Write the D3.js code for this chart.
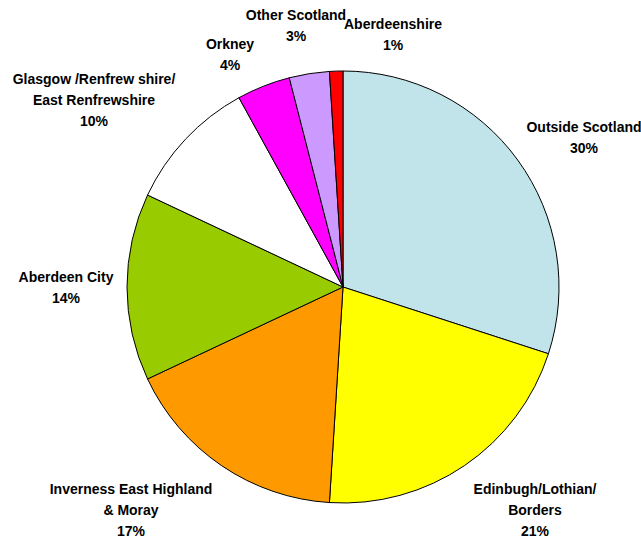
<!DOCTYPE html>
<html>
<head>
<meta charset="utf-8">
<script src="https://cdn.jsdelivr.net/npm/d3@7"></script>
<style>
  html, body { margin: 0; padding: 0; background: #fff; }
  svg text { font-family: "Liberation Sans", Arial, sans-serif; font-weight: bold; font-size: 14px; fill: #000; }
</style>
</head>
<body>
<svg id="chart" width="641" height="542"></svg>
<script>
// Share of respondents by home area (percent)
const categories = [
  "Outside Scotland",
  "Edinbugh/Lothian/\nBorders",
  "Inverness East Highland\n& Moray",
  "Aberdeen City",
  "Glasgow /Renfrew shire/\nEast Renfrewshire",
  "Orkney",
  "Other Scotland",
  "Aberdeenshire"
];
const values = [30, 21, 17, 14, 10, 4, 3, 1];
const colors = ["#C0E4EA", "#FFFF00", "#FF9900", "#99CC00", "#FFFFFF", "#FF00FF", "#CC99FF", "#FF0000"];

// Label block centres (x, y) around the pie
const labelCenters = [
  [584, 137], [535, 510], [131, 510], [66, 287],
  [94, 100], [230, 54], [296, 25], [393, 34]
];

const svg = d3.select("#chart");
const cx = 343, cy = 287, R = 216;

const pie = d3.pie().sort(null).value(d => d.value);
const arc = d3.arc().innerRadius(0).outerRadius(R);

const data = categories.map((c, i) => ({ name: c, value: values[i], color: colors[i] }));

const g = svg.append("g").attr("transform", `translate(${cx},${cy})`);
g.selectAll("path")
  .data(pie(data))
  .join("path")
  .attr("d", arc)
  .attr("fill", d => d.data.color)
  .attr("stroke", "#000")
  .attr("stroke-width", 1)
  .attr("stroke-linejoin", "round");

const lineH = 21;
const labels = svg.append("g");
data.forEach((d, i) => {
  const lines = d.name.split("\n").concat([d.value + "%"]);
  const [lx, ly] = labelCenters[i];
  const top = ly - (lines.length - 1) * lineH / 2;
  const t = labels.append("text")
    .attr("text-anchor", "middle")
    .attr("dominant-baseline", "central");
  lines.forEach((s, k) => {
    t.append("tspan").attr("x", lx).attr("y", top + k * lineH).text(s);
  });
});
</script>
</body>
</html>
